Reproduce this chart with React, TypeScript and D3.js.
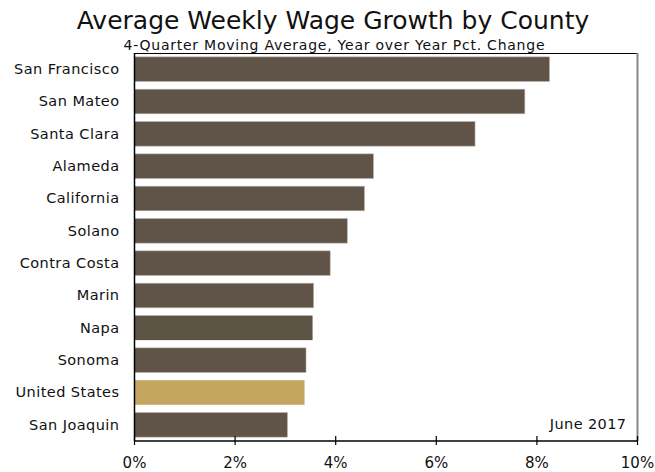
import React from "react";
import * as d3 from "d3";

const categories = ["San Francisco","San Mateo","Santa Clara","Alameda","California","Solano","Contra Costa","Marin","Napa","Sonoma","United States","San Joaquin"];
const values = [8.25, 7.76, 6.77, 4.75, 4.57, 4.23, 3.89, 3.56, 3.54, 3.41, 3.38, 3.04];
const barColors = ["#5f5447","#5f5447","#5f5447","#5f5447","#5f5447","#5f5447","#5f5447","#5f5447","#5c5546","#5f5447","#c4a661","#5f5447"];
const tickValues = [0, 2, 4, 6, 8, 10];

const W = 655, H = 472;
const left = 134.5, right = 637.5, top = 53, bottom = 441;
const font = "'DejaVu Sans', Verdana, sans-serif";

export default function App() {
  const x = d3.scaleLinear().domain([0, 10]).range([left, right]);
  const y = d3.scaleBand().domain(categories).range([top, bottom]).paddingInner(0.24).paddingOuter(0.12);
  return (
    <svg width={W} height={H} style={{ position: "absolute", left: 0, top: 0 }} fontFamily={font}>
      <rect width={W} height={H} fill="#fff" />
      <text x={333} y={28.5} textAnchor="middle" fontSize={25} fill="#111">Average Weekly Wage Growth by County</text>
      <text x={123.5} y={49.5} fontSize={14} fill="#111" textLength={421} lengthAdjust="spacing">4-Quarter Moving Average, Year over Year Pct. Change</text>
      <line x1={left} x2={right} y1={top + 0.5} y2={top + 0.5} stroke="#000" strokeWidth={1} />
      <line x1={right} x2={right} y1={top} y2={bottom} stroke="#888" strokeWidth={2} />
      {categories.map((c, i) => (
        <g key={c}>
          <rect x={x(0)} y={y(c)!} width={x(values[i]) - x(0)} height={y.bandwidth()} fill={barColors[i]} stroke={i === 8 || i === 10 ? "none" : "#b8b0a8"} strokeWidth={0.6} />
          <text x={119.5} y={y(c)! + y.bandwidth() / 2 + 4.8} textAnchor="end" fontSize={14.5} letterSpacing={0.45} fill="#111">{c}</text>
        </g>
      ))}
      <line x1={left} x2={left} y1={top} y2={bottom} stroke="#000" strokeWidth={1.5} />
      <line x1={left} x2={right} y1={bottom} y2={bottom} stroke="#000" strokeWidth={1.5} />
      {tickValues.map(t => (
        <g key={t}>
          <line x1={x(t)} x2={x(t)} y1={bottom - 5} y2={bottom + 4} stroke="#000" strokeWidth={1.2} />
          <text x={x(t)} y={467.5} textAnchor="middle" fontSize={15} fill="#111">{t}%</text>
        </g>
      ))}
      <text x={626.5} y={428.5} textAnchor="end" fontSize={14.5} letterSpacing={0.4} fill="#111">June 2017</text>
    </svg>
  );
}
